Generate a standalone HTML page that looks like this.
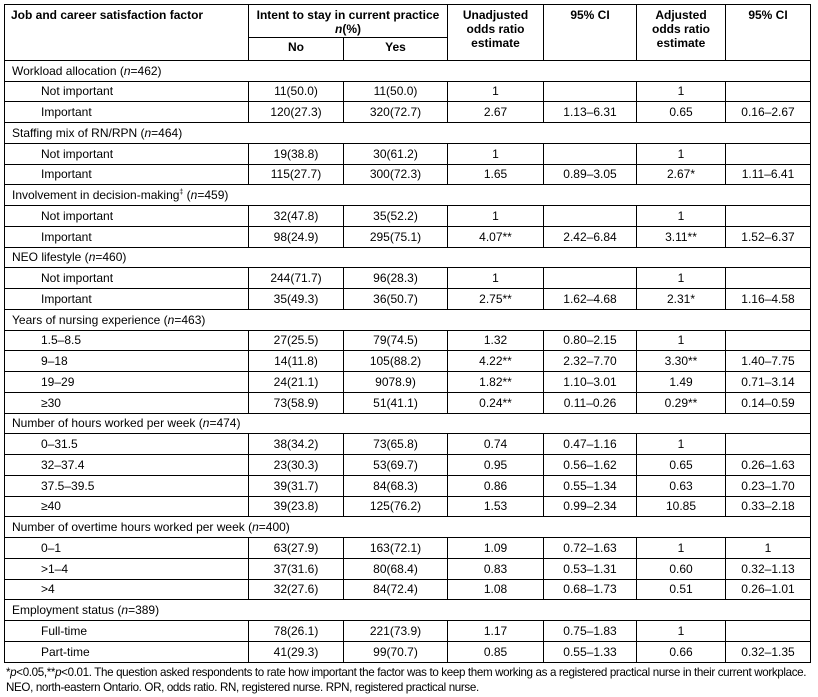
<!DOCTYPE html>
<html><head><meta charset="utf-8"><style>
body{margin:0;background:#fff;width:818px;height:697px;overflow:hidden;font-family:"Liberation Sans",Arial,sans-serif;}
table{position:absolute;left:4px;top:4px;border-collapse:collapse;table-layout:fixed;font-size:12px;color:#000;}
td,th{border:1px solid #000;padding:0 4px;height:19.76px;text-align:center;white-space:nowrap;overflow:hidden;}
th{font-weight:bold;vertical-align:top;padding-top:3px;}
td.s{text-align:left;padding-left:7px;}
td.i{text-align:left;padding-left:36px;}
.f{position:absolute;left:6px;top:665px;font-size:11.6px;line-height:15px;letter-spacing:-0.35px;color:#000;white-space:nowrap;}
</style></head><body>
<table>
<colgroup><col style="width:244px"><col style="width:95px"><col style="width:104px"><col style="width:96px"><col style="width:93px"><col style="width:89px"><col style="width:85px"></colgroup>
<tr><th rowspan="2" style="text-align:left;padding-left:6px;height:51px">Job and career satisfaction factor</th><th colspan="2" style="height:29px;line-height:14px">Intent to stay in current practice<br><i>n</i>(%)</th><th rowspan="2" style="line-height:14px">Unadjusted<br>odds ratio<br>estimate</th><th rowspan="2">95% CI</th><th rowspan="2" style="line-height:14px">Adjusted<br>odds ratio<br>estimate</th><th rowspan="2">95% CI</th></tr>
<tr><th style="height:18px;padding-top:2px">No</th><th style="padding-top:2px">Yes</th></tr>
<tr><td class="s" colspan="7">Workload allocation (<i>n</i>=462)</td></tr>
<tr><td class="i">Not important</td><td>11(50.0)</td><td>11(50.0)</td><td>1</td><td></td><td>1</td><td></td></tr>
<tr><td class="i">Important</td><td>120(27.3)</td><td>320(72.7)</td><td>2.67</td><td>1.13–6.31</td><td>0.65</td><td>0.16–2.67</td></tr>
<tr><td class="s" colspan="7">Staffing mix of RN/RPN (<i>n</i>=464)</td></tr>
<tr><td class="i">Not important</td><td>19(38.8)</td><td>30(61.2)</td><td>1</td><td></td><td>1</td><td></td></tr>
<tr><td class="i">Important</td><td>115(27.7)</td><td>300(72.3)</td><td>1.65</td><td>0.89–3.05</td><td>2.67*</td><td>1.11–6.41</td></tr>
<tr><td class="s" colspan="7">Involvement in decision-making<sup style="font-size:7px">‡</sup> (<i>n</i>=459)</td></tr>
<tr><td class="i">Not important</td><td>32(47.8)</td><td>35(52.2)</td><td>1</td><td></td><td>1</td><td></td></tr>
<tr><td class="i">Important</td><td>98(24.9)</td><td>295(75.1)</td><td>4.07**</td><td>2.42–6.84</td><td>3.11**</td><td>1.52–6.37</td></tr>
<tr><td class="s" colspan="7">NEO lifestyle (<i>n</i>=460)</td></tr>
<tr><td class="i">Not important</td><td>244(71.7)</td><td>96(28.3)</td><td>1</td><td></td><td>1</td><td></td></tr>
<tr><td class="i">Important</td><td>35(49.3)</td><td>36(50.7)</td><td>2.75**</td><td>1.62–4.68</td><td>2.31*</td><td>1.16–4.58</td></tr>
<tr><td class="s" colspan="7">Years of nursing experience (<i>n</i>=463)</td></tr>
<tr><td class="i">1.5–8.5</td><td>27(25.5)</td><td>79(74.5)</td><td>1.32</td><td>0.80–2.15</td><td>1</td><td></td></tr>
<tr><td class="i">9–18</td><td>14(11.8)</td><td>105(88.2)</td><td>4.22**</td><td>2.32–7.70</td><td>3.30**</td><td>1.40–7.75</td></tr>
<tr><td class="i">19–29</td><td>24(21.1)</td><td>9078.9)</td><td>1.82**</td><td>1.10–3.01</td><td>1.49</td><td>0.71–3.14</td></tr>
<tr><td class="i">≥30</td><td>73(58.9)</td><td>51(41.1)</td><td>0.24**</td><td>0.11–0.26</td><td>0.29**</td><td>0.14–0.59</td></tr>
<tr><td class="s" colspan="7">Number of hours worked per week (<i>n</i>=474)</td></tr>
<tr><td class="i">0–31.5</td><td>38(34.2)</td><td>73(65.8)</td><td>0.74</td><td>0.47–1.16</td><td>1</td><td></td></tr>
<tr><td class="i">32–37.4</td><td>23(30.3)</td><td>53(69.7)</td><td>0.95</td><td>0.56–1.62</td><td>0.65</td><td>0.26–1.63</td></tr>
<tr><td class="i">37.5–39.5</td><td>39(31.7)</td><td>84(68.3)</td><td>0.86</td><td>0.55–1.34</td><td>0.63</td><td>0.23–1.70</td></tr>
<tr><td class="i">≥40</td><td>39(23.8)</td><td>125(76.2)</td><td>1.53</td><td>0.99–2.34</td><td>10.85</td><td>0.33–2.18</td></tr>
<tr><td class="s" colspan="7">Number of overtime hours worked per week (<i>n</i>=400)</td></tr>
<tr><td class="i">0–1</td><td>63(27.9)</td><td>163(72.1)</td><td>1.09</td><td>0.72–1.63</td><td>1</td><td>1</td></tr>
<tr><td class="i">&gt;1–4</td><td>37(31.6)</td><td>80(68.4)</td><td>0.83</td><td>0.53–1.31</td><td>0.60</td><td>0.32–1.13</td></tr>
<tr><td class="i">&gt;4</td><td>32(27.6)</td><td>84(72.4)</td><td>1.08</td><td>0.68–1.73</td><td>0.51</td><td>0.26–1.01</td></tr>
<tr><td class="s" colspan="7">Employment status (<i>n</i>=389)</td></tr>
<tr><td class="i">Full-time</td><td>78(26.1)</td><td>221(73.9)</td><td>1.17</td><td>0.75–1.83</td><td>1</td><td></td></tr>
<tr><td class="i">Part-time</td><td>41(29.3)</td><td>99(70.7)</td><td>0.85</td><td>0.55–1.33</td><td>0.66</td><td>0.32–1.35</td></tr>
</table>
<div class="f">*<i>p</i>&lt;0.05,**<i>p</i>&lt;0.01. The question asked respondents to rate how important the factor was to keep them working as a registered practical nurse in their current workplace.<br>NEO, north-eastern Ontario. OR, odds ratio. RN, registered nurse. RPN, registered practical nurse.</div>
</body></html>
